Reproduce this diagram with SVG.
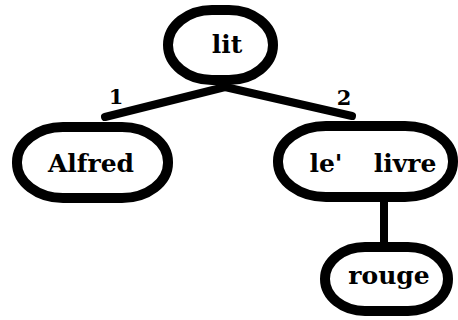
<svg xmlns="http://www.w3.org/2000/svg" width="458" height="320" viewBox="0 0 458 320">
<style>
.node{fill:#fff;stroke:#000;stroke-width:10;stroke-linejoin:round}
.edge{fill:none;stroke:#000;stroke-width:8;stroke-linecap:round}
.lbl{font-family:"DejaVu Serif","Liberation Serif",serif;font-weight:bold;font-size:25px;fill:#000;text-anchor:middle}
.num{font-family:"DejaVu Serif","Liberation Serif",serif;font-weight:bold;font-size:21px;fill:#000;text-anchor:middle}
</style>
<rect width="458" height="320" fill="#fff"/>
<g id="connectors">
<path class="edge" d="M225 87 L105 117"/>
<path class="edge" d="M225 87 L352 116"/>
<path class="edge" d="M384 198 L384 246"/>
<text class="num" x="116" y="104">1</text>
<text class="num" x="344" y="105">2</text>
</g>
<g id="node-lit">
<rect class="node" x="168" y="10" width="105" height="70" rx="44" ry="35"/>
<text class="lbl" x="227" y="53">lit</text>
</g>
<g id="node-alfred">
<rect class="node" x="17" y="127" width="151" height="71" rx="46" ry="35"/>
<text class="lbl" x="91" y="172">Alfred</text>
</g>
<g id="node-livre">
<rect class="node" x="278" y="126" width="175" height="71" rx="48" ry="35"/>
<text class="lbl" x="326" y="172">le'</text>
<text class="lbl" x="405" y="172">livre</text>
</g>
<g id="node-rouge">
<rect class="node" x="325" y="247" width="123" height="64" rx="40" ry="32"/>
<text class="lbl" x="389" y="284">rouge</text>
</g>
</svg>
